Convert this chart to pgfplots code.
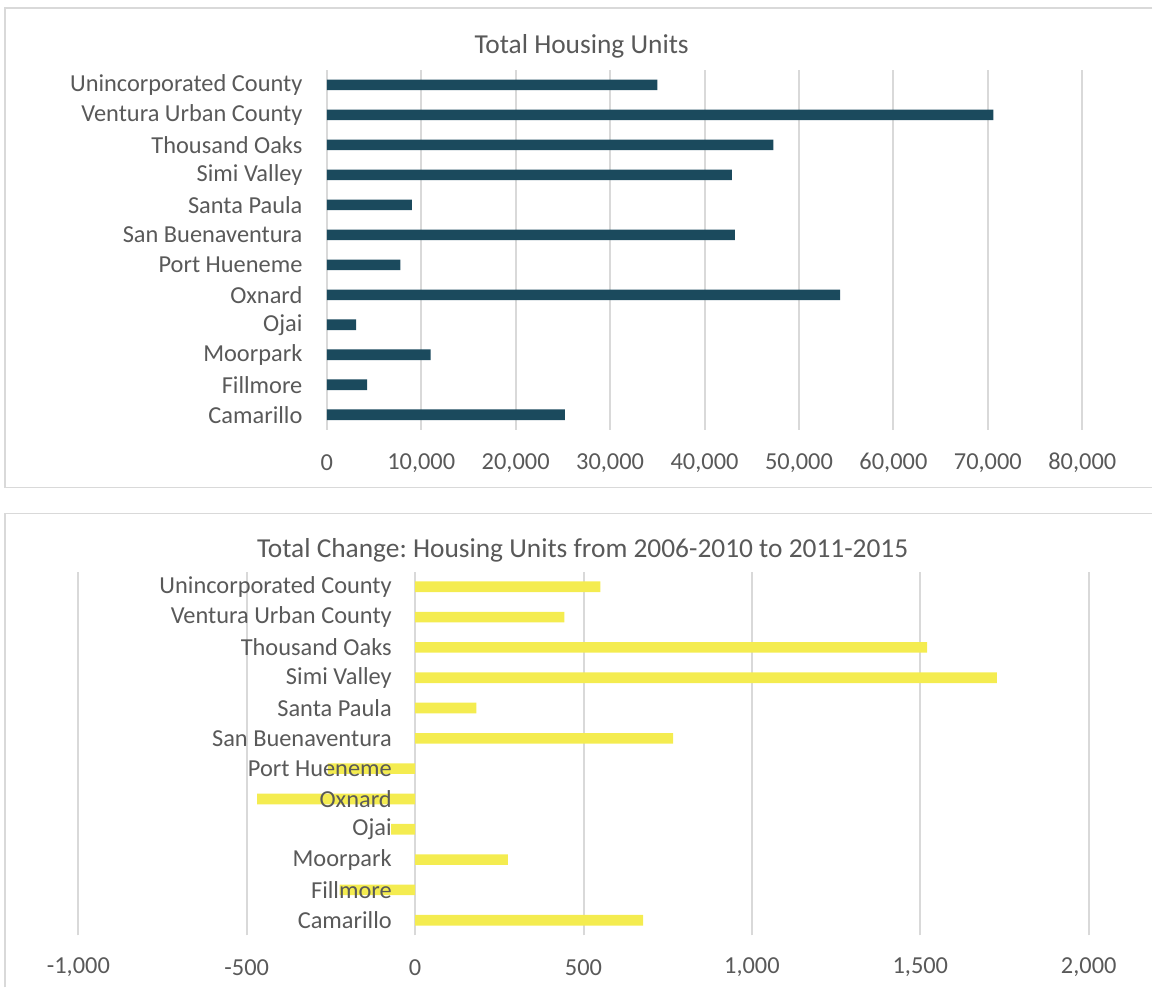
\documentclass[border=0pt]{standalone}
\usepackage{fontspec}
\setmainfont{Carlito}
\usepackage{pgfplots}
\pgfplotsset{compat=1.18}
\definecolor{txt}{HTML}{595959}
\definecolor{gridc}{HTML}{D9D9D9}
\definecolor{barteal}{HTML}{1B4A5D}
\definecolor{baryel}{HTML}{F4EC50}
\frenchspacing

% tick labels above the bars, as in the reference
\pgfplotsset{layers/labelsontop/.define layer set={
    axis background,axis grid,axis ticks,axis lines,pre main,main,
    axis tick labels,axis descriptions,axis foreground}{
    grid style={/pgfplots/on layer=axis grid},
    tick style={/pgfplots/on layer=axis ticks},
    axis line style={/pgfplots/on layer=axis lines},
    label style={/pgfplots/on layer=axis descriptions},
    title style={/pgfplots/on layer=axis descriptions},
    ticklabel style={/pgfplots/on layer=axis tick labels},
}}

\pgfplotsset{housing/.style={
    xbar, scale only axis, enlargelimits=false,
    set layers=labelsontop,
    anchor=south west,
    scaled x ticks=false,
    ymin=-0.5, ymax=11.5, ytick={0,...,11},
    yticklabels={Camarillo,Fillmore,Moorpark\ ,Ojai,Oxnard,Port Hueneme,San Buenaventura,Santa Paula,Simi Valley,Thousand Oaks,Ventura Urban County,Unincorporated County},
    axis line style={draw=none}, major tick length=0pt,
    xmajorgrids, ymajorgrids=false,
    major grid style={gridc, line width=1pt},
    bar width=5.3pt,
    tick label style={font=\fontsize{12.2}{14}\selectfont, text=txt},
    yticklabel style={anchor=east, inner sep=0pt},
}}

\begin{document}
\begin{tikzpicture}
\path (0pt,0pt) rectangle (576.5pt,494pt);
% chart frames
\draw[gridc, line width=0.75pt] (576.5pt,490pt) -- (2.5pt,490pt) -- (2.5pt,250pt) -- (576.5pt,250pt);
\draw[gridc, line width=0.75pt] (2.5pt,0pt) -- (2.5pt,237pt) -- (576.5pt,237pt);

\node[text=txt, font=\fontsize{13.7}{16}\selectfont] at (291pt,471pt) {Total Housing Units};
\node[text=txt, font=\fontsize{13.7}{16}\selectfont] at (291.5pt,218.5pt) {Total Change: Housing Units from 2006-2010 to 2011-2015};

\begin{axis}[housing,
    at={(163.5pt,279pt)}, width=378pt, height=180pt,
    xmin=0, xmax=80000, xtick={0,10000,...,80000},
    xticklabels={0,{10,000},{20,000},{30,000},{40,000},{50,000},{60,000},{70,000},{80,000}},
    xticklabel style={anchor=center, yshift=-16.5pt},
    yticklabel style={xshift=-12pt},
]
\addplot[fill=barteal, draw=none] coordinates {
    (25220,0) (4270,1) (11000,2) (3100,3) (54360,4) (7800,5)
    (43200,6) (9000,7) (42900,8) (47300,9) (70580,10) (35000,11)
};
\end{axis}

\begin{axis}[housing,
    at={(39.2pt,26pt)}, width=505.5pt, height=182pt,
    xmin=-1000, xmax=2000, xtick={-1000,-500,...,2000},
    xticklabels={{-1,000},-500,0,500,{1,000},{1,500},{2,000}},
    xticklabel style={anchor=center, yshift=-16pt},
    yticklabel style={xshift=157pt},
]
\addplot[fill=baryel, draw=none] coordinates {
    (677,0) (-224,1) (275,2) (-71,3) (-469,4) (-259,5)
    (766,6) (182,7) (1727,8) (1520,9) (443,10) (550,11)
};
\end{axis}
\end{tikzpicture}
\end{document}
